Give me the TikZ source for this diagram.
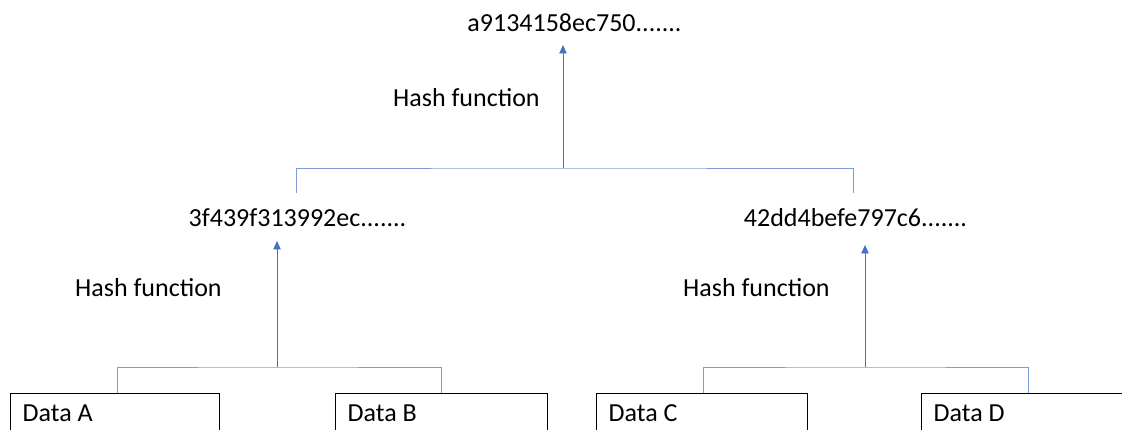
\documentclass[tikz,border=0pt]{standalone}
\usepackage{fontspec}
\setmainfont{Carlito}
\usetikzlibrary{arrows.meta}
\definecolor{linkblue}{HTML}{4472C4}
\definecolor{legblue}{HTML}{7C9DD8}
\tikzset{
  txt/.style={font=\fontsize{26}{31}\selectfont, inner sep=0pt},
  link/.style={draw=legblue, line width=0.9pt},
  arr/.style={draw=linkblue, line width=0.9pt, -{Triangle[width=7.5pt,length=8.5pt]}},
  databox/.style={draw=black, line width=1.3pt, anchor=north west,
    font=\fontsize{26}{31}\selectfont, align=flush left, inner xsep=12pt,
    inner ysep=3.5pt, text height=24pt, text depth=40pt},
}
\begin{document}
\begin{tikzpicture}[x=1pt,y=1pt]
  \useasboundingbox (0,0) rectangle (1122,430);

  % hash values
  \node[txt, anchor=base] (root) at (574.5,398.3) {a9134158ec750.......};
  \node[txt, anchor=base] (hL) at (297.5,203) {3f439f313992ec.......};
  \node[txt, anchor=base] (hR) at (855.5,203.3) {42dd4befe797c6.......};

  % labels
  \node[txt, anchor=base west] (f0) at (393,323) {Hash function};
  \node[txt, anchor=base west] (f1) at (75,133) {Hash function};
  \node[txt, anchor=base west] (f2) at (683,133) {Hash function};

  % data blocks
  \node[databox, text width=185pt] (A) at (10,37) {Data A};
  \node[databox, text width=188pt] (B) at (335,37) {Data B};
  \node[databox, text width=187pt] (C) at (596,37) {Data C};
  \node[databox, text width=226pt] (D) at (921,37) {Data D};

  % junctions and arrow tips
  \coordinate (j0) at (563,262);
  \coordinate (t0) at (563,385);
  \coordinate (j1) at (277,63);
  \coordinate (t1) at (277,189);
  \coordinate (j2) at (865,63);
  \coordinate (t2) at (865,185);
  \coordinate (l0) at (296,237);
  \coordinate (r0) at (853,237);

  % top level
  \draw[link] (l0) |- (j0) -| (r0);
  \draw[arr] (j0) -- (t0);

  % left pair
  \draw[link] (117,0 |- A.north) |- (j1) -| (441,0 |- B.north);
  \draw[arr] (j1) -- (t1);

  % right pair
  \draw[link] (703,0 |- C.north) |- (j2) -| (1028,0 |- D.north);
  \draw[arr] (j2) -- (t2);
\end{tikzpicture}
\end{document}
